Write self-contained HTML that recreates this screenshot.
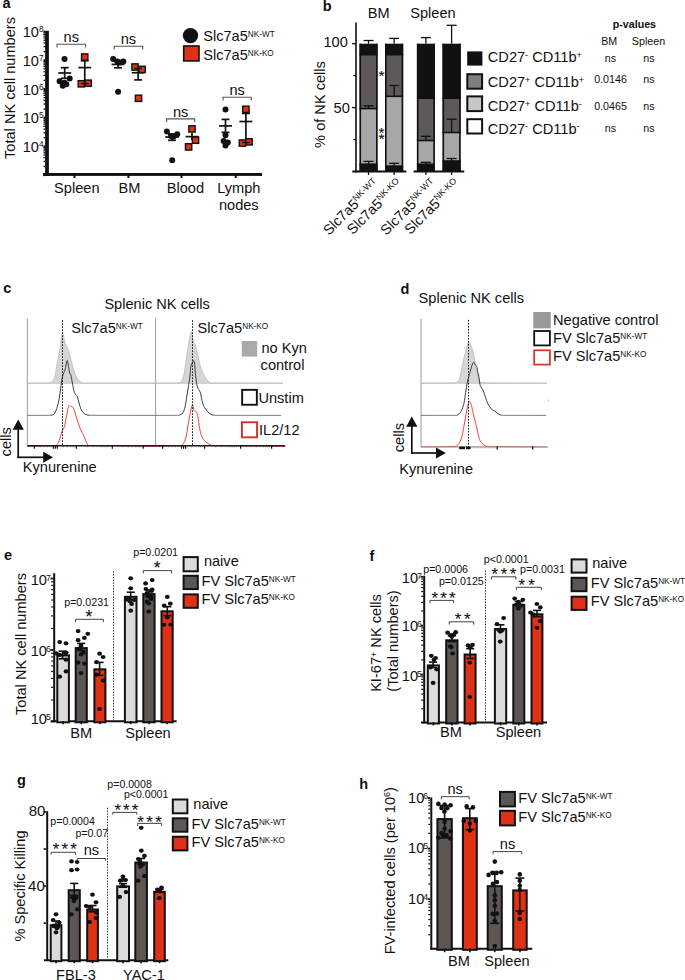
<!DOCTYPE html>
<html><head><meta charset="utf-8"><title>figure</title>
<style>
html,body{margin:0;padding:0;background:#fff;}
svg{display:block;font-family:"Liberation Sans",sans-serif;font-size:14.6px;fill:#111;}
</style></head><body>
<svg width="685" height="980" viewBox="0 0 685 980">
<text x="2.4" y="7.9" font-weight="bold" font-size="14.5">a</text>
<text transform="translate(15,88) rotate(-90)" text-anchor="middle">Total NK cell numbers</text>
<rect x="45.1" y="30.8" width="3.8" height="145" fill="#111"/>
<rect x="43" y="173" width="219" height="2.9" fill="#111"/>
<rect x="43.5" y="30.6" width="1.6" height="2" fill="#111"/>
<rect x="43.5" y="51.01" width="1.6" height="1.3" fill="#111"/>
<rect x="43.5" y="45.96" width="1.6" height="1.3" fill="#111"/>
<rect x="43.5" y="42.37" width="1.6" height="1.3" fill="#111"/>
<rect x="43.5" y="39.59" width="1.6" height="1.3" fill="#111"/>
<rect x="43.5" y="37.32" width="1.6" height="1.3" fill="#111"/>
<rect x="43.5" y="35.4" width="1.6" height="1.3" fill="#111"/>
<rect x="43.5" y="33.73" width="1.6" height="1.3" fill="#111"/>
<rect x="43.5" y="32.26" width="1.6" height="1.3" fill="#111"/>
<rect x="43.5" y="59.3" width="1.6" height="2" fill="#111"/>
<rect x="43.5" y="79.71" width="1.6" height="1.3" fill="#111"/>
<rect x="43.5" y="74.66" width="1.6" height="1.3" fill="#111"/>
<rect x="43.5" y="71.07" width="1.6" height="1.3" fill="#111"/>
<rect x="43.5" y="68.29" width="1.6" height="1.3" fill="#111"/>
<rect x="43.5" y="66.02" width="1.6" height="1.3" fill="#111"/>
<rect x="43.5" y="64.1" width="1.6" height="1.3" fill="#111"/>
<rect x="43.5" y="62.43" width="1.6" height="1.3" fill="#111"/>
<rect x="43.5" y="60.96" width="1.6" height="1.3" fill="#111"/>
<rect x="43.5" y="88" width="1.6" height="2" fill="#111"/>
<rect x="43.5" y="108.41" width="1.6" height="1.3" fill="#111"/>
<rect x="43.5" y="103.36" width="1.6" height="1.3" fill="#111"/>
<rect x="43.5" y="99.77" width="1.6" height="1.3" fill="#111"/>
<rect x="43.5" y="96.99" width="1.6" height="1.3" fill="#111"/>
<rect x="43.5" y="94.72" width="1.6" height="1.3" fill="#111"/>
<rect x="43.5" y="92.8" width="1.6" height="1.3" fill="#111"/>
<rect x="43.5" y="91.13" width="1.6" height="1.3" fill="#111"/>
<rect x="43.5" y="89.66" width="1.6" height="1.3" fill="#111"/>
<rect x="43.5" y="116.7" width="1.6" height="2" fill="#111"/>
<rect x="43.5" y="137.11" width="1.6" height="1.3" fill="#111"/>
<rect x="43.5" y="132.06" width="1.6" height="1.3" fill="#111"/>
<rect x="43.5" y="128.47" width="1.6" height="1.3" fill="#111"/>
<rect x="43.5" y="125.69" width="1.6" height="1.3" fill="#111"/>
<rect x="43.5" y="123.42" width="1.6" height="1.3" fill="#111"/>
<rect x="43.5" y="121.5" width="1.6" height="1.3" fill="#111"/>
<rect x="43.5" y="119.83" width="1.6" height="1.3" fill="#111"/>
<rect x="43.5" y="118.36" width="1.6" height="1.3" fill="#111"/>
<rect x="43.5" y="145.4" width="1.6" height="2" fill="#111"/>
<rect x="43.5" y="165.81" width="1.6" height="1.3" fill="#111"/>
<rect x="43.5" y="160.76" width="1.6" height="1.3" fill="#111"/>
<rect x="43.5" y="157.17" width="1.6" height="1.3" fill="#111"/>
<rect x="43.5" y="154.39" width="1.6" height="1.3" fill="#111"/>
<rect x="43.5" y="152.12" width="1.6" height="1.3" fill="#111"/>
<rect x="43.5" y="150.2" width="1.6" height="1.3" fill="#111"/>
<rect x="43.5" y="148.53" width="1.6" height="1.3" fill="#111"/>
<rect x="43.5" y="147.06" width="1.6" height="1.3" fill="#111"/>
<rect x="43.5" y="174.1" width="1.6" height="2" fill="#111"/>
<text x="22.7" y="37.3">10<tspan font-size="8.3" dy="-5.2">8</tspan></text>
<text x="22.7" y="66">10<tspan font-size="8.3" dy="-5.2">7</tspan></text>
<text x="22.7" y="94.7">10<tspan font-size="8.3" dy="-5.2">6</tspan></text>
<text x="22.7" y="123.4">10<tspan font-size="8.3" dy="-5.2">5</tspan></text>
<text x="22.7" y="152.1">10<tspan font-size="8.3" dy="-5.2">4</tspan></text>
<rect x="73.5" y="174" width="2" height="4" fill="#111"/>
<rect x="127.4" y="174" width="2" height="4" fill="#111"/>
<rect x="180.5" y="174" width="2" height="4" fill="#111"/>
<rect x="234.7" y="174" width="2" height="4" fill="#111"/>
<text x="76.8" y="192.7" text-anchor="middle">Spleen</text>
<text x="129.5" y="192.7" text-anchor="middle">BM</text>
<text x="185.4" y="192.7" text-anchor="middle">Blood</text>
<text x="238.8" y="192.7" text-anchor="middle">Lymph</text>
<text x="238.8" y="210" text-anchor="middle">nodes</text>
<path d="M57 47.5 V44.3 H85.5 V47.5" fill="none" stroke="#555" stroke-width="1.1"/>
<text x="71.25" y="42.3" text-anchor="middle">ns</text>
<path d="M114.2 49.4 V46.2 H142.7 V49.4" fill="none" stroke="#555" stroke-width="1.1"/>
<text x="128.45" y="44.2" text-anchor="middle">ns</text>
<path d="M166.6 122.1 V118.9 H194.7 V122.1" fill="none" stroke="#555" stroke-width="1.1"/>
<text x="180.65" y="116.9" text-anchor="middle">ns</text>
<path d="M223 100.5 V97.3 H251.2 V100.5" fill="none" stroke="#555" stroke-width="1.1"/>
<text x="237.1" y="95.3" text-anchor="middle">ns</text>
<circle cx="190.5" cy="35.6" r="7.7" fill="#111"/>
<rect x="183.7" y="46" width="15.3" height="14.9" fill="#df3116" stroke="#111" stroke-width="1.6"/>
<text x="203.2" y="40.8">Slc7a5<tspan font-size="8.2" dy="-4">NK-WT</tspan></text>
<text x="203.2" y="60">Slc7a5<tspan font-size="8.2" dy="-4">NK-KO</tspan></text>
<line x1="64.7" y1="67.7" x2="64.7" y2="78.3" stroke="#111" stroke-width="1.7"/>
<line x1="60.75" y1="67.7" x2="68.65" y2="67.7" stroke="#111" stroke-width="1.7"/>
<line x1="60.75" y1="78.3" x2="68.65" y2="78.3" stroke="#111" stroke-width="1.7"/>
<line x1="58.25" y1="73" x2="71.15" y2="73" stroke="#111" stroke-width="1.7"/>
<circle cx="64.5" cy="58.9" r="3" fill="#111"/>
<circle cx="59.6" cy="81.2" r="3" fill="#111"/>
<circle cx="69.7" cy="78.6" r="3" fill="#111"/>
<circle cx="62.8" cy="85.8" r="3" fill="#111"/>
<circle cx="66.3" cy="84.2" r="3" fill="#111"/>
<circle cx="64.5" cy="82.8" r="3" fill="#111"/>
<line x1="84.75" y1="60.9" x2="84.75" y2="83.6" stroke="#111" stroke-width="1.7"/>
<line x1="78.3" y1="67.6" x2="91.2" y2="67.6" stroke="#111" stroke-width="1.7"/>
<rect x="81.55" y="53.85" width="6.3" height="6.3" fill="#df3116" stroke="#111" stroke-width="1.4"/>
<rect x="78.15" y="80.65" width="6.3" height="6.3" fill="#df3116" stroke="#111" stroke-width="1.4"/>
<rect x="85.05" y="80.05" width="6.3" height="6.3" fill="#df3116" stroke="#111" stroke-width="1.4"/>
<line x1="80.8" y1="60.9" x2="88.7" y2="60.9" stroke="#111" stroke-width="1.5"/>
<line x1="80.8" y1="83.6" x2="88.7" y2="83.6" stroke="#111" stroke-width="1.5"/>
<line x1="118" y1="61" x2="118" y2="67.8" stroke="#111" stroke-width="1.7"/>
<line x1="114.05" y1="61" x2="121.95" y2="61" stroke="#111" stroke-width="1.7"/>
<line x1="114.05" y1="67.8" x2="121.95" y2="67.8" stroke="#111" stroke-width="1.7"/>
<line x1="111.55" y1="64.4" x2="124.45" y2="64.4" stroke="#111" stroke-width="1.7"/>
<circle cx="113.2" cy="59" r="3" fill="#111"/>
<circle cx="123.3" cy="61.5" r="3" fill="#111"/>
<circle cx="117.2" cy="61.5" r="3" fill="#111"/>
<circle cx="120" cy="62.5" r="3" fill="#111"/>
<circle cx="118.1" cy="91.7" r="3" fill="#111"/>
<line x1="138.2" y1="68.4" x2="138.2" y2="79.9" stroke="#111" stroke-width="1.7"/>
<line x1="131.75" y1="72.7" x2="144.65" y2="72.7" stroke="#111" stroke-width="1.7"/>
<line x1="134.25" y1="68.4" x2="142.15" y2="68.4" stroke="#111" stroke-width="1.7"/>
<line x1="134.25" y1="79.9" x2="142.15" y2="79.9" stroke="#111" stroke-width="1.7"/>
<rect x="131.85" y="63.85" width="6.3" height="6.3" fill="#df3116" stroke="#111" stroke-width="1.4"/>
<rect x="138.9" y="66.25" width="6.3" height="6.3" fill="#df3116" stroke="#111" stroke-width="1.4"/>
<rect x="135.35" y="95.15" width="6.3" height="6.3" fill="#df3116" stroke="#111" stroke-width="1.4"/>
<line x1="134.3" y1="68.4" x2="141.8" y2="68.4" stroke="#111" stroke-width="1.5"/>
<line x1="172" y1="134" x2="172" y2="140.3" stroke="#111" stroke-width="1.7"/>
<line x1="168.05" y1="134" x2="175.95" y2="134" stroke="#111" stroke-width="1.7"/>
<line x1="168.05" y1="140.3" x2="175.95" y2="140.3" stroke="#111" stroke-width="1.7"/>
<line x1="165.2" y1="137" x2="178.8" y2="137" stroke="#111" stroke-width="1.7"/>
<circle cx="166.9" cy="131.4" r="3" fill="#111"/>
<circle cx="177.2" cy="134.3" r="3" fill="#111"/>
<circle cx="171" cy="136" r="3" fill="#111"/>
<circle cx="173.5" cy="136.5" r="3" fill="#111"/>
<circle cx="172.2" cy="160.2" r="3" fill="#111"/>
<line x1="192" y1="132.8" x2="192" y2="140" stroke="#111" stroke-width="1.7"/>
<line x1="185.55" y1="136.6" x2="198.45" y2="136.6" stroke="#111" stroke-width="1.7"/>
<line x1="192" y1="132.8" x2="192" y2="132.8" stroke="#111" stroke-width="1.7"/>
<line x1="192" y1="140" x2="192" y2="140" stroke="#111" stroke-width="1.7"/>
<rect x="188.85" y="125.75" width="6.3" height="6.3" fill="#df3116" stroke="#111" stroke-width="1.4"/>
<rect x="192.35" y="137.05" width="6.3" height="6.3" fill="#df3116" stroke="#111" stroke-width="1.4"/>
<rect x="185.45" y="143.75" width="6.3" height="6.3" fill="#df3116" stroke="#111" stroke-width="1.4"/>
<line x1="225.5" y1="119.4" x2="225.5" y2="132.4" stroke="#111" stroke-width="1.7"/>
<line x1="221.55" y1="119.4" x2="229.45" y2="119.4" stroke="#111" stroke-width="1.7"/>
<line x1="221.55" y1="132.4" x2="229.45" y2="132.4" stroke="#111" stroke-width="1.7"/>
<line x1="219.05" y1="125.9" x2="231.95" y2="125.9" stroke="#111" stroke-width="1.7"/>
<circle cx="225.5" cy="109.6" r="3" fill="#111"/>
<circle cx="225.5" cy="135.3" r="3" fill="#111"/>
<circle cx="223.6" cy="141" r="3" fill="#111"/>
<circle cx="227.8" cy="142.4" r="3" fill="#111"/>
<circle cx="225.5" cy="145.4" r="3" fill="#111"/>
<line x1="245.9" y1="113.5" x2="245.9" y2="142.5" stroke="#111" stroke-width="1.7"/>
<line x1="239.45" y1="121.5" x2="252.35" y2="121.5" stroke="#111" stroke-width="1.7"/>
<rect x="242.75" y="106.15" width="6.3" height="6.3" fill="#df3116" stroke="#111" stroke-width="1.4"/>
<rect x="239.25" y="139.9" width="6.3" height="6.3" fill="#df3116" stroke="#111" stroke-width="1.4"/>
<rect x="245.9" y="138.7" width="6.3" height="6.3" fill="#df3116" stroke="#111" stroke-width="1.4"/>
<line x1="241.95" y1="113.5" x2="249.85" y2="113.5" stroke="#111" stroke-width="1.5"/>
<line x1="241.95" y1="142.5" x2="249.85" y2="142.5" stroke="#111" stroke-width="1.5"/>
<text x="322.8" y="11.4" font-weight="bold" font-size="14.5">b</text>
<text x="378.8" y="17.9" text-anchor="middle">BM</text>
<text x="433" y="17.9" text-anchor="middle">Spleen</text>
<text transform="translate(325.2,104.5) rotate(-90)" text-anchor="middle">% of NK cells</text>
<line x1="356" y1="22.4" x2="356" y2="172.4" stroke="#111" stroke-width="1.6"/>
<line x1="352" y1="43.7" x2="356" y2="43.7" stroke="#111" stroke-width="1.3"/>
<line x1="353.4" y1="75.65" x2="356" y2="75.65" stroke="#111" stroke-width="1.3"/>
<line x1="352" y1="107.6" x2="356" y2="107.6" stroke="#111" stroke-width="1.3"/>
<line x1="353.4" y1="139.55" x2="356" y2="139.55" stroke="#111" stroke-width="1.3"/>
<text x="347.8" y="47.4" text-anchor="end">100</text>
<text x="349.8" y="113.4" text-anchor="end">50</text>
<line x1="352.3" y1="171.5" x2="406.4" y2="171.5" stroke="#111" stroke-width="2"/>
<line x1="413.6" y1="171.5" x2="464.3" y2="171.5" stroke="#111" stroke-width="2"/>
<rect x="359.5" y="43.7" width="18.1" height="11" fill="#111"/>
<rect x="359.5" y="54.7" width="18.1" height="53.9" fill="#5d5959"/>
<rect x="359.5" y="108.6" width="18.1" height="55.6" fill="#a7a7a7"/>
<rect x="359.5" y="164.2" width="18.1" height="7.3" fill="#111"/>
<rect x="359.5" y="43.7" width="1.6" height="127.8" fill="#111"/>
<rect x="376" y="43.7" width="1.6" height="127.8" fill="#111"/>
<rect x="359.5" y="53.9" width="18.1" height="1.6" fill="#111"/>
<rect x="359.5" y="107.8" width="18.1" height="1.6" fill="#111"/>
<rect x="359.5" y="163.4" width="18.1" height="1.6" fill="#111"/>
<line x1="368.55" y1="43.7" x2="368.55" y2="40.5" stroke="#111" stroke-width="1.3"/>
<line x1="363.55" y1="40.5" x2="373.55" y2="40.5" stroke="#111" stroke-width="1.3"/>
<line x1="368.55" y1="108.6" x2="368.55" y2="105.8" stroke="#111" stroke-width="1.3"/>
<line x1="363.55" y1="105.8" x2="373.55" y2="105.8" stroke="#111" stroke-width="1.3"/>
<line x1="368.55" y1="164.2" x2="368.55" y2="161.4" stroke="#111" stroke-width="1.3"/>
<line x1="363.55" y1="161.4" x2="373.55" y2="161.4" stroke="#111" stroke-width="1.3"/>
<line x1="368.55" y1="171.5" x2="368.55" y2="175" stroke="#111" stroke-width="1.3"/>
<rect x="385" y="43.7" width="18.2" height="11" fill="#111"/>
<rect x="385" y="54.7" width="18.2" height="41.6" fill="#5d5959"/>
<rect x="385" y="96.3" width="18.2" height="69.8" fill="#a7a7a7"/>
<rect x="385" y="166.1" width="18.2" height="5.4" fill="#111"/>
<rect x="385" y="43.7" width="1.6" height="127.8" fill="#111"/>
<rect x="401.6" y="43.7" width="1.6" height="127.8" fill="#111"/>
<rect x="385" y="53.9" width="18.2" height="1.6" fill="#111"/>
<rect x="385" y="95.5" width="18.2" height="1.6" fill="#111"/>
<rect x="385" y="165.3" width="18.2" height="1.6" fill="#111"/>
<line x1="394.1" y1="43.7" x2="394.1" y2="38.4" stroke="#111" stroke-width="1.3"/>
<line x1="389.1" y1="38.4" x2="399.1" y2="38.4" stroke="#111" stroke-width="1.3"/>
<line x1="394.1" y1="96.3" x2="394.1" y2="85.5" stroke="#111" stroke-width="1.3"/>
<line x1="389.1" y1="85.5" x2="399.1" y2="85.5" stroke="#111" stroke-width="1.3"/>
<line x1="394.1" y1="166.1" x2="394.1" y2="163.3" stroke="#111" stroke-width="1.3"/>
<line x1="389.1" y1="163.3" x2="399.1" y2="163.3" stroke="#111" stroke-width="1.3"/>
<line x1="394.1" y1="171.5" x2="394.1" y2="175" stroke="#111" stroke-width="1.3"/>
<rect x="416.9" y="43.7" width="18" height="54.5" fill="#111"/>
<rect x="416.9" y="98.2" width="18" height="42.3" fill="#5d5959"/>
<rect x="416.9" y="140.5" width="18" height="23.7" fill="#a7a7a7"/>
<rect x="416.9" y="164.2" width="18" height="7.3" fill="#111"/>
<rect x="416.9" y="43.7" width="1.6" height="127.8" fill="#111"/>
<rect x="433.3" y="43.7" width="1.6" height="127.8" fill="#111"/>
<rect x="416.9" y="97.4" width="18" height="1.6" fill="#111"/>
<rect x="416.9" y="139.7" width="18" height="1.6" fill="#111"/>
<rect x="416.9" y="163.4" width="18" height="1.6" fill="#111"/>
<line x1="425.9" y1="43.7" x2="425.9" y2="37.6" stroke="#111" stroke-width="1.3"/>
<line x1="420.9" y1="37.6" x2="430.9" y2="37.6" stroke="#111" stroke-width="1.3"/>
<line x1="425.9" y1="140.5" x2="425.9" y2="136.3" stroke="#111" stroke-width="1.3"/>
<line x1="420.9" y1="136.3" x2="430.9" y2="136.3" stroke="#111" stroke-width="1.3"/>
<line x1="425.9" y1="164.2" x2="425.9" y2="162.3" stroke="#111" stroke-width="1.3"/>
<line x1="420.9" y1="162.3" x2="430.9" y2="162.3" stroke="#111" stroke-width="1.3"/>
<line x1="425.9" y1="171.5" x2="425.9" y2="175" stroke="#111" stroke-width="1.3"/>
<rect x="442.5" y="43.7" width="18.2" height="54.5" fill="#111"/>
<rect x="442.5" y="98.2" width="18.2" height="34.3" fill="#5d5959"/>
<rect x="442.5" y="132.5" width="18.2" height="28.5" fill="#a7a7a7"/>
<rect x="442.5" y="161" width="18.2" height="10.5" fill="#111"/>
<rect x="442.5" y="43.7" width="1.6" height="127.8" fill="#111"/>
<rect x="459.1" y="43.7" width="1.6" height="127.8" fill="#111"/>
<rect x="442.5" y="97.4" width="18.2" height="1.6" fill="#111"/>
<rect x="442.5" y="131.7" width="18.2" height="1.6" fill="#111"/>
<rect x="442.5" y="160.2" width="18.2" height="1.6" fill="#111"/>
<line x1="451.6" y1="43.7" x2="451.6" y2="25.3" stroke="#111" stroke-width="1.3"/>
<line x1="446.6" y1="25.3" x2="456.6" y2="25.3" stroke="#111" stroke-width="1.3"/>
<line x1="451.6" y1="132.5" x2="451.6" y2="119.2" stroke="#111" stroke-width="1.3"/>
<line x1="446.6" y1="119.2" x2="456.6" y2="119.2" stroke="#111" stroke-width="1.3"/>
<line x1="451.6" y1="161" x2="451.6" y2="158.5" stroke="#111" stroke-width="1.3"/>
<line x1="446.6" y1="158.5" x2="456.6" y2="158.5" stroke="#111" stroke-width="1.3"/>
<line x1="451.6" y1="171.5" x2="451.6" y2="175" stroke="#111" stroke-width="1.3"/>
<text x="378.39" y="81.38" font-size="15.3" stroke="#111" stroke-width="0.1">*</text>
<text x="378.39" y="137.78" font-size="15.3" stroke="#111" stroke-width="0.1">*</text>
<text x="378.39" y="144.08" font-size="15.3" stroke="#111" stroke-width="0.1">*</text>
<text transform="translate(380,184.9) rotate(-45)" text-anchor="end" font-size="14.2">Slc7a5<tspan font-size="8.8" dy="-5">NK-WT</tspan></text>
<text transform="translate(403.1,184.9) rotate(-45)" text-anchor="end" font-size="14.2">Slc7a5<tspan font-size="8.8" dy="-5">NK-KO</tspan></text>
<text transform="translate(437.4,184.9) rotate(-45)" text-anchor="end" font-size="14.2">Slc7a5<tspan font-size="8.8" dy="-5">NK-WT</tspan></text>
<text transform="translate(460.6,184.9) rotate(-45)" text-anchor="end" font-size="14.2">Slc7a5<tspan font-size="8.8" dy="-5">NK-KO</tspan></text>
<rect x="468" y="52.2" width="13.6" height="12.6" fill="#111" stroke="#111" stroke-width="1.6"/>
<rect x="467.3" y="74.2" width="14.8" height="14.5" fill="#7f7f7f" stroke="#111" stroke-width="2"/>
<rect x="467.3" y="96.4" width="14.8" height="14.7" fill="#c6c6c6" stroke="#111" stroke-width="2"/>
<rect x="467.3" y="119.2" width="14.8" height="14.3" fill="#ffffff" stroke="#111" stroke-width="2"/>
<text x="487.8" y="62.4">CD27<tspan font-size="9" dy="-4.5">-</tspan><tspan dy="4.5"> CD11b</tspan><tspan font-size="9" dy="-4.5">+</tspan></text>
<text x="487.8" y="87.1">CD27<tspan font-size="9" dy="-4.5">+</tspan><tspan dy="4.5"> CD11b</tspan><tspan font-size="9" dy="-4.5">+</tspan></text>
<text x="487.8" y="111.2">CD27<tspan font-size="9" dy="-4.5">+</tspan><tspan dy="4.5"> CD11b</tspan><tspan font-size="9" dy="-4.5">-</tspan></text>
<text x="487.8" y="133.5">CD27<tspan font-size="9" dy="-4.5">-</tspan><tspan dy="4.5"> CD11b</tspan><tspan font-size="9" dy="-4.5">-</tspan></text>
<text x="634.4" y="28" text-anchor="middle" font-weight="bold" font-size="10.7">p-values</text>
<text x="609.2" y="45.2" text-anchor="middle" font-size="10.7">BM</text>
<text x="648.5" y="45.2" text-anchor="middle" font-size="10.7">Spleen</text>
<text x="610.5" y="61.9" text-anchor="middle" font-size="10.7">ns</text>
<text x="648.9" y="61.9" text-anchor="middle" font-size="10.7">ns</text>
<text x="610.5" y="83" text-anchor="middle" font-size="10.7">0.0146</text>
<text x="648.9" y="83" text-anchor="middle" font-size="10.7">ns</text>
<text x="610.5" y="110.2" text-anchor="middle" font-size="10.7">0.0465</text>
<text x="648.9" y="110.2" text-anchor="middle" font-size="10.7">ns</text>
<text x="610.5" y="131.5" text-anchor="middle" font-size="10.7">ns</text>
<text x="648.9" y="131.5" text-anchor="middle" font-size="10.7">ns</text>
<text x="3.3" y="293.2" font-weight="bold" font-size="14.5">c</text>
<text x="104.4" y="308.6">Splenic NK cells</text>
<line x1="27.3" y1="318.5" x2="27.3" y2="445.7" stroke="#9a9a9a" stroke-width="1"/>
<line x1="155.6" y1="318.5" x2="155.6" y2="445.7" stroke="#9a9a9a" stroke-width="1"/>
<path d="M27.3 383.2 L48.7 383.1 C50.07 382.75 51.73 382.23 52.8 381 C53.87 379.77 54.33 378.92 55.1 375.7 C55.87 372.48 56.62 365.98 57.4 361.7 C58.18 357.42 59.12 354.08 59.8 350 C60.48 345.92 61.02 340.3 61.5 337.2 C61.98 334.1 62.3 331.4 62.7 331.4 C63.1 331.4 63.52 335.27 63.9 337.2 C64.28 339.13 64.42 341.25 65 343 C65.58 344.75 66.62 345.75 67.4 347.7 C68.18 349.65 68.93 351.98 69.7 354.7 C70.47 357.42 71.22 361.08 72 364 C72.78 366.92 73.42 369.67 74.4 372.2 C75.38 374.73 76.73 377.48 77.9 379.2 C79.07 380.92 80.43 381.83 81.4 382.5 C82.37 383.17 82.93 383.08 83.7 383.2 L155.6 383.2 Z" fill="#d6d6d6" stroke="#bdbdbd" stroke-width="0.9"/>
<path d="M155.6 383.2 L177.5 383.1 C178.87 382.75 180.53 382.42 181.6 381 C182.67 379.58 183.12 378.2 183.9 374.6 C184.68 371 185.52 364.47 186.3 359.4 C187.08 354.33 187.88 348.48 188.6 344.2 C189.32 339.92 190.07 335.75 190.6 333.7 C191.13 331.65 191.35 330.73 191.8 331.9 C192.25 333.07 192.67 338.27 193.3 340.7 C193.93 343.13 194.82 343.97 195.6 346.5 C196.38 349.03 197.22 352.58 198 355.9 C198.78 359.22 199.33 363.28 200.3 366.4 C201.27 369.52 202.53 372.17 203.8 374.6 C205.07 377.03 206.63 379.58 207.9 381 C209.17 382.42 210.23 382.75 211.4 383.1 L282.8 383.2 Z" fill="#d6d6d6" stroke="#bdbdbd" stroke-width="0.9"/>
<line x1="27.3" y1="415.4" x2="51" y2="415.3" stroke="#707070" stroke-width="0.9"/>
<line x1="89.6" y1="415.3" x2="155.6" y2="415.4" stroke="#707070" stroke-width="0.9"/>
<path d="M51 415.3 L51 415.3 C52.17 415 53.43 414.97 54.5 413.5 C55.57 412.03 56.62 409.02 57.4 406.5 C58.18 403.98 58.67 401.32 59.2 398.4 C59.73 395.48 60.22 391.73 60.6 389 C60.98 386.27 61.12 384.33 61.5 382 C61.88 379.67 62.32 377.02 62.9 375 C63.48 372.98 64.3 372.32 65 369.9 C65.7 367.48 66.52 361.08 67.1 360.5 C67.68 359.92 68.07 364.25 68.5 366.4 C68.93 368.55 69.3 371.97 69.7 373.4 C70.1 374.83 70.42 373.18 70.9 375 C71.38 376.82 72.02 381.38 72.6 384.3 C73.18 387.22 73.62 390.45 74.4 392.5 C75.18 394.55 76.53 394.85 77.3 396.6 C78.07 398.35 78.32 400.77 79 403 C79.68 405.23 80.42 408.15 81.4 410 C82.38 411.85 83.53 413.22 84.9 414.1 C86.27 414.98 88.03 415.1 89.6 415.3 L89.6 415.3" fill="none" stroke="#333" stroke-width="0.95"/>
<line x1="155.6" y1="415.4" x2="178.7" y2="415.3" stroke="#707070" stroke-width="0.9"/>
<line x1="213.7" y1="415.3" x2="281" y2="415.4" stroke="#707070" stroke-width="0.9"/>
<path d="M178.7 415.3 L178.7 415.3 C180.07 414.92 181.73 414.47 182.8 413 C183.87 411.53 184.42 409.33 185.1 406.5 C185.78 403.67 186.32 399.5 186.9 396 C187.48 392.5 188.07 389 188.6 385.5 C189.13 382 189.72 378.18 190.1 375 C190.48 371.82 190.37 368.72 190.9 366.4 C191.43 364.08 192.7 361.68 193.3 361.1 C193.9 360.52 194.12 360.47 194.5 362.9 C194.88 365.33 195.12 371.73 195.6 375.7 C196.08 379.67 196.62 383.9 197.4 386.7 C198.18 389.5 199.43 389.78 200.3 392.5 C201.17 395.22 201.73 400.27 202.6 403 C203.47 405.73 204.43 407.23 205.5 408.9 C206.57 410.57 207.63 411.93 209 413 C210.37 414.07 212.13 414.92 213.7 415.3 L213.7 415.3" fill="none" stroke="#333" stroke-width="0.95"/>
<path d="M27.3 446.4 L56.3 445.7 C57.27 444.82 58.23 442.83 59.2 440.4 C60.17 437.97 61.22 433.43 62.1 431.1 C62.98 428.77 63.72 429.13 64.5 426.4 C65.28 423.67 66.13 418.12 66.8 414.7 C67.47 411.28 67.92 407.3 68.5 405.9 C69.08 404.5 69.52 406 70.3 406.3 C71.08 406.6 72.13 405.72 73.2 407.7 C74.27 409.68 75.53 414.7 76.7 418.2 C77.87 421.7 79.03 425.78 80.2 428.7 C81.37 431.62 82.53 433.17 83.7 435.7 C84.87 438.23 86.32 442.23 87.2 443.9 C88.08 445.57 88.4 445.4 89 445.7 L155.6 446.4" fill="none" stroke="#f0453a" stroke-width="1"/>
<path d="M155.6 446.4 L181 445.7 C181.97 445.2 183.02 444.37 183.9 442.7 C184.78 441.03 185.52 439.2 186.3 435.7 C187.08 432.2 187.83 425.98 188.6 421.7 C189.37 417.42 190.25 412.82 190.9 410 C191.55 407.18 192 404.8 192.5 404.8 C193 404.8 193.28 408.83 193.9 410 C194.52 411.17 195.52 410.63 196.2 411.8 C196.88 412.97 197.42 414.18 198 417 C198.58 419.82 199.03 425.38 199.7 428.7 C200.37 432.02 201.03 434.75 202 436.9 C202.97 439.05 204.33 440.42 205.5 441.6 C206.67 442.78 207.92 443.32 209 444 C210.08 444.68 211 445.42 212 445.7 L285 446.4" fill="none" stroke="#f0453a" stroke-width="1"/>
<line x1="62.5" y1="320.3" x2="62.5" y2="445.7" stroke="#111" stroke-width="1" stroke-dasharray="1.6 1.4"/>
<line x1="192.5" y1="320.3" x2="192.5" y2="445.7" stroke="#111" stroke-width="1" stroke-dasharray="1.6 1.4"/>
<line x1="27.3" y1="445.7" x2="285.2" y2="445.7" stroke="#1a1a1a" stroke-width="1.4"/>
<line x1="34.3" y1="445.7" x2="34.3" y2="448.7" stroke="#111" stroke-width="1.2"/>
<line x1="53.3" y1="445.7" x2="53.3" y2="448.7" stroke="#111" stroke-width="1.2"/>
<line x1="55.3" y1="445.7" x2="55.3" y2="448.7" stroke="#111" stroke-width="1.2"/>
<line x1="57.3" y1="445.7" x2="57.3" y2="448.7" stroke="#111" stroke-width="1.2"/>
<line x1="76.3" y1="445.7" x2="76.3" y2="448.7" stroke="#111" stroke-width="1.2"/>
<line x1="112.3" y1="445.7" x2="112.3" y2="448.7" stroke="#111" stroke-width="1.2"/>
<line x1="143.3" y1="445.7" x2="143.3" y2="448.7" stroke="#111" stroke-width="1.2"/>
<line x1="40.3" y1="445.7" x2="40.3" y2="447.3" stroke="#555" stroke-width="0.8"/>
<line x1="44.3" y1="445.7" x2="44.3" y2="447.3" stroke="#555" stroke-width="0.8"/>
<line x1="47.3" y1="445.7" x2="47.3" y2="447.3" stroke="#555" stroke-width="0.8"/>
<line x1="50.3" y1="445.7" x2="50.3" y2="447.3" stroke="#555" stroke-width="0.8"/>
<line x1="63.3" y1="445.7" x2="63.3" y2="447.3" stroke="#555" stroke-width="0.8"/>
<line x1="67.3" y1="445.7" x2="67.3" y2="447.3" stroke="#555" stroke-width="0.8"/>
<line x1="70.3" y1="445.7" x2="70.3" y2="447.3" stroke="#555" stroke-width="0.8"/>
<line x1="72.3" y1="445.7" x2="72.3" y2="447.3" stroke="#555" stroke-width="0.8"/>
<line x1="74.3" y1="445.7" x2="74.3" y2="447.3" stroke="#555" stroke-width="0.8"/>
<line x1="87.3" y1="445.7" x2="87.3" y2="447.3" stroke="#555" stroke-width="0.8"/>
<line x1="93.3" y1="445.7" x2="93.3" y2="447.3" stroke="#555" stroke-width="0.8"/>
<line x1="97.3" y1="445.7" x2="97.3" y2="447.3" stroke="#555" stroke-width="0.8"/>
<line x1="100.3" y1="445.7" x2="100.3" y2="447.3" stroke="#555" stroke-width="0.8"/>
<line x1="102.3" y1="445.7" x2="102.3" y2="447.3" stroke="#555" stroke-width="0.8"/>
<line x1="104.3" y1="445.7" x2="104.3" y2="447.3" stroke="#555" stroke-width="0.8"/>
<line x1="106.3" y1="445.7" x2="106.3" y2="447.3" stroke="#555" stroke-width="0.8"/>
<line x1="108.3" y1="445.7" x2="108.3" y2="447.3" stroke="#555" stroke-width="0.8"/>
<line x1="122.3" y1="445.7" x2="122.3" y2="447.3" stroke="#555" stroke-width="0.8"/>
<line x1="128.3" y1="445.7" x2="128.3" y2="447.3" stroke="#555" stroke-width="0.8"/>
<line x1="132.3" y1="445.7" x2="132.3" y2="447.3" stroke="#555" stroke-width="0.8"/>
<line x1="135.3" y1="445.7" x2="135.3" y2="447.3" stroke="#555" stroke-width="0.8"/>
<line x1="137.3" y1="445.7" x2="137.3" y2="447.3" stroke="#555" stroke-width="0.8"/>
<line x1="139.3" y1="445.7" x2="139.3" y2="447.3" stroke="#555" stroke-width="0.8"/>
<line x1="141.3" y1="445.7" x2="141.3" y2="447.3" stroke="#555" stroke-width="0.8"/>
<line x1="162.6" y1="445.7" x2="162.6" y2="448.7" stroke="#111" stroke-width="1.2"/>
<line x1="181.6" y1="445.7" x2="181.6" y2="448.7" stroke="#111" stroke-width="1.2"/>
<line x1="183.6" y1="445.7" x2="183.6" y2="448.7" stroke="#111" stroke-width="1.2"/>
<line x1="185.6" y1="445.7" x2="185.6" y2="448.7" stroke="#111" stroke-width="1.2"/>
<line x1="204.6" y1="445.7" x2="204.6" y2="448.7" stroke="#111" stroke-width="1.2"/>
<line x1="240.6" y1="445.7" x2="240.6" y2="448.7" stroke="#111" stroke-width="1.2"/>
<line x1="271.6" y1="445.7" x2="271.6" y2="448.7" stroke="#111" stroke-width="1.2"/>
<line x1="168.6" y1="445.7" x2="168.6" y2="447.3" stroke="#555" stroke-width="0.8"/>
<line x1="172.6" y1="445.7" x2="172.6" y2="447.3" stroke="#555" stroke-width="0.8"/>
<line x1="175.6" y1="445.7" x2="175.6" y2="447.3" stroke="#555" stroke-width="0.8"/>
<line x1="178.6" y1="445.7" x2="178.6" y2="447.3" stroke="#555" stroke-width="0.8"/>
<line x1="191.6" y1="445.7" x2="191.6" y2="447.3" stroke="#555" stroke-width="0.8"/>
<line x1="195.6" y1="445.7" x2="195.6" y2="447.3" stroke="#555" stroke-width="0.8"/>
<line x1="198.6" y1="445.7" x2="198.6" y2="447.3" stroke="#555" stroke-width="0.8"/>
<line x1="200.6" y1="445.7" x2="200.6" y2="447.3" stroke="#555" stroke-width="0.8"/>
<line x1="202.6" y1="445.7" x2="202.6" y2="447.3" stroke="#555" stroke-width="0.8"/>
<line x1="215.6" y1="445.7" x2="215.6" y2="447.3" stroke="#555" stroke-width="0.8"/>
<line x1="221.6" y1="445.7" x2="221.6" y2="447.3" stroke="#555" stroke-width="0.8"/>
<line x1="225.6" y1="445.7" x2="225.6" y2="447.3" stroke="#555" stroke-width="0.8"/>
<line x1="228.6" y1="445.7" x2="228.6" y2="447.3" stroke="#555" stroke-width="0.8"/>
<line x1="230.6" y1="445.7" x2="230.6" y2="447.3" stroke="#555" stroke-width="0.8"/>
<line x1="232.6" y1="445.7" x2="232.6" y2="447.3" stroke="#555" stroke-width="0.8"/>
<line x1="234.6" y1="445.7" x2="234.6" y2="447.3" stroke="#555" stroke-width="0.8"/>
<line x1="236.6" y1="445.7" x2="236.6" y2="447.3" stroke="#555" stroke-width="0.8"/>
<line x1="250.6" y1="445.7" x2="250.6" y2="447.3" stroke="#555" stroke-width="0.8"/>
<line x1="256.6" y1="445.7" x2="256.6" y2="447.3" stroke="#555" stroke-width="0.8"/>
<line x1="260.6" y1="445.7" x2="260.6" y2="447.3" stroke="#555" stroke-width="0.8"/>
<line x1="263.6" y1="445.7" x2="263.6" y2="447.3" stroke="#555" stroke-width="0.8"/>
<line x1="265.6" y1="445.7" x2="265.6" y2="447.3" stroke="#555" stroke-width="0.8"/>
<line x1="267.6" y1="445.7" x2="267.6" y2="447.3" stroke="#555" stroke-width="0.8"/>
<line x1="269.6" y1="445.7" x2="269.6" y2="447.3" stroke="#555" stroke-width="0.8"/>
<text x="71.2" y="333.4">Slc7a5<tspan font-size="8.2" dy="-4">NK-WT</tspan></text>
<text x="197.6" y="332.8">Slc7a5<tspan font-size="8.2" dy="-4">NK-KO</tspan></text>
<rect x="241.8" y="341" width="15.4" height="15.6" fill="#aaaaaa"/>
<text x="261.4" y="352.6">no Kyn</text>
<text x="260.6" y="370.4">control</text>
<rect x="242.15" y="389.85" width="14.7" height="14.9" fill="none" stroke="#111" stroke-width="1.9"/>
<text x="258.4" y="403">Unstim</text>
<rect x="241.95" y="422.25" width="15.1" height="15.1" fill="none" stroke="#d9302a" stroke-width="1.9"/>
<text x="259" y="435.2">IL2/12</text>
<line x1="18.2" y1="458.1" x2="18.2" y2="428.6" stroke="#111" stroke-width="1.7"/>
<line x1="17.4" y1="457.3" x2="44" y2="457.3" stroke="#111" stroke-width="1.7"/>
<path d="M18.2 419.6 L12.6 429.8 L23.8 429.8 Z" fill="#111" stroke="none" stroke-width="1"/>
<path d="M53 457.3 L43.2 451.8 L43.2 462.8 Z" fill="#111" stroke="none" stroke-width="1"/>
<text transform="translate(11.2,441.8) rotate(-90)" text-anchor="middle">cells</text>
<text x="22.8" y="472.2">Kynurenine</text>
<text x="400.5" y="293.7" font-weight="bold" font-size="14.5">d</text>
<text x="418.6" y="302.8">Splenic NK cells</text>
<line x1="421" y1="318.5" x2="421" y2="446.9" stroke="#9a9a9a" stroke-width="1"/>
<path d="M421 383.2 L453.4 383.1 C454.93 382.85 456.83 382.83 458 381.6 C459.17 380.37 459.72 378.23 460.4 375.7 C461.08 373.17 461.52 369.32 462.1 366.4 C462.68 363.48 463.22 360.93 463.9 358.2 C464.58 355.47 465.43 352.72 466.2 350 C466.97 347.28 467.72 342.67 468.5 341.9 C469.28 341.13 470.12 343.65 470.9 345.4 C471.68 347.15 472.52 349.68 473.2 352.4 C473.88 355.12 474.42 358.58 475 361.7 C475.58 364.82 476.02 367.98 476.7 371.1 C477.38 374.22 478.22 378.5 479.1 380.4 C479.98 382.3 480.25 382.05 482 382.5 C483.75 382.95 487.07 383 489.6 383.1 L546.8 383.2 Z" fill="#d6d6d6" stroke="#bdbdbd" stroke-width="0.9"/>
<line x1="421" y1="415.4" x2="456.9" y2="415.3" stroke="#707070" stroke-width="0.9"/>
<line x1="501.2" y1="415.3" x2="546.3" y2="415.4" stroke="#707070" stroke-width="0.9"/>
<path d="M456.9 415.3 L456.9 415.3 C458.07 414.82 459.43 413.67 460.4 412.4 C461.37 411.13 462.02 409.65 462.7 407.7 C463.38 405.75 464.02 403.23 464.5 400.7 C464.98 398.17 465.12 395.62 465.6 392.5 C466.08 389.38 466.72 385.18 467.4 382 C468.08 378.82 468.93 376.2 469.7 373.4 C470.47 370.6 471.32 367.05 472 365.2 C472.68 363.35 473.3 362.4 473.8 362.3 C474.3 362.2 474.52 363.92 475 364.6 C475.48 365.28 476.22 365.13 476.7 366.4 C477.18 367.67 477.5 370.25 477.9 372.2 C478.3 374.15 478.72 375.88 479.1 378.1 C479.48 380.32 479.53 383.48 480.2 385.5 C480.87 387.52 482.22 388.25 483.1 390.2 C483.98 392.15 484.72 394.97 485.5 397.2 C486.28 399.43 486.83 401.65 487.8 403.6 C488.77 405.55 490.13 407.63 491.3 408.9 C492.47 410.17 493.53 410.33 494.8 411.2 C496.07 412.07 497.83 413.42 498.9 414.1 C499.97 414.78 500.43 415.1 501.2 415.3 L501.2 415.3" fill="none" stroke="#333" stroke-width="0.95"/>
<path d="M421 447.3 L455.1 446.5 C456.27 446.07 457.53 445.3 458.6 443.9 C459.67 442.5 460.62 441.02 461.5 438.1 C462.38 435.18 463.12 430.5 463.9 426.4 C464.68 422.3 465.43 417.4 466.2 413.5 C466.97 409.6 467.92 404.98 468.5 403 C469.08 401.02 469.2 401.2 469.7 401.6 C470.2 402 470.92 403.42 471.5 405.4 C472.08 407.38 472.62 410.98 473.2 413.5 C473.78 416.02 474.42 418.15 475 420.5 C475.58 422.85 476.02 424.67 476.7 427.6 C477.38 430.53 478.32 435.58 479.1 438.1 C479.88 440.62 480.43 441.43 481.4 442.7 C482.37 443.97 483.73 445.07 484.9 445.7 C486.07 446.33 487.23 446.37 488.4 446.5 L547.6 447.3" fill="none" stroke="#f0453a" stroke-width="1"/>
<line x1="468.5" y1="319.9" x2="468.5" y2="446.9" stroke="#111" stroke-width="1" stroke-dasharray="1.6 1.4"/>
<line x1="421" y1="447.4" x2="547.6" y2="447.4" stroke="#f0a8a8" stroke-width="0.9"/>
<line x1="421" y1="446.6" x2="547.6" y2="446.6" stroke="#888" stroke-width="0.7"/>
<rect x="459.2" y="446.6" width="5.8" height="2.6" fill="#111"/>
<rect x="466" y="446.6" width="4.6" height="2.6" fill="#111"/>
<line x1="497.2" y1="446.5" x2="497.2" y2="449.6" stroke="#111" stroke-width="1.3"/>
<line x1="532.7" y1="446.5" x2="532.7" y2="449.6" stroke="#111" stroke-width="1.3"/>
<line x1="474" y1="446.5" x2="474" y2="448.6" stroke="#aaa" stroke-width="0.7"/>
<line x1="477" y1="446.5" x2="477" y2="448.6" stroke="#aaa" stroke-width="0.7"/>
<line x1="480" y1="446.5" x2="480" y2="448.6" stroke="#aaa" stroke-width="0.7"/>
<line x1="483" y1="446.5" x2="483" y2="448.6" stroke="#aaa" stroke-width="0.7"/>
<line x1="485.5" y1="446.5" x2="485.5" y2="448.6" stroke="#aaa" stroke-width="0.7"/>
<line x1="488" y1="446.5" x2="488" y2="448.6" stroke="#aaa" stroke-width="0.7"/>
<line x1="490" y1="446.5" x2="490" y2="448.6" stroke="#aaa" stroke-width="0.7"/>
<line x1="492.5" y1="446.5" x2="492.5" y2="448.6" stroke="#aaa" stroke-width="0.7"/>
<line x1="494.5" y1="446.5" x2="494.5" y2="448.6" stroke="#aaa" stroke-width="0.7"/>
<rect x="548.1" y="399.4" width="0.9" height="2.2" fill="#c8c8c8"/>
<rect x="533.3" y="312" width="17.5" height="16.4" fill="#999999"/>
<rect x="534.2" y="331" width="15.7" height="14.4" fill="none" stroke="#111" stroke-width="1.8"/>
<rect x="534.2" y="350.3" width="15.7" height="14.3" fill="none" stroke="#d9372c" stroke-width="1.8"/>
<text x="553" y="324.8">Negative control</text>
<text x="553" y="342.9">FV Slc7a5<tspan font-size="8.2" dy="-4">NK-WT</tspan></text>
<text x="553" y="361.4">FV Slc7a5<tspan font-size="8.2" dy="-4">NK-KO</tspan></text>
<line x1="411.8" y1="453.8" x2="411.8" y2="425.6" stroke="#111" stroke-width="1.7"/>
<line x1="411" y1="453" x2="436.8" y2="453" stroke="#111" stroke-width="1.7"/>
<path d="M411.8 416.6 L406.2 426.8 L417.4 426.8 Z" fill="#111" stroke="none" stroke-width="1"/>
<path d="M445.8 453 L436 447.5 L436 458.5 Z" fill="#111" stroke="none" stroke-width="1"/>
<text transform="translate(403.8,437.6) rotate(-90)" text-anchor="middle">cells</text>
<text x="399.2" y="473.7">Kynurenine</text>
<text x="4.1" y="559.5" font-weight="bold" font-size="14.5">e</text>
<text transform="translate(26.3,644) rotate(-90)" text-anchor="middle">Total NK cell numbers</text>
<rect x="53.2" y="573.2" width="2" height="149.1" fill="#111"/>
<rect x="50.6" y="577.6" width="2.6" height="1.8" fill="#111"/>
<rect x="51.2" y="627.88" width="2" height="1.2" fill="#111"/>
<rect x="51.2" y="615.29" width="2" height="1.2" fill="#111"/>
<rect x="51.2" y="606.35" width="2" height="1.2" fill="#111"/>
<rect x="51.2" y="599.42" width="2" height="1.2" fill="#111"/>
<rect x="51.2" y="593.76" width="2" height="1.2" fill="#111"/>
<rect x="51.2" y="588.98" width="2" height="1.2" fill="#111"/>
<rect x="51.2" y="584.83" width="2" height="1.2" fill="#111"/>
<rect x="51.2" y="581.17" width="2" height="1.2" fill="#111"/>
<rect x="50.6" y="649.1" width="2.6" height="1.8" fill="#111"/>
<rect x="51.2" y="699.38" width="2" height="1.2" fill="#111"/>
<rect x="51.2" y="686.79" width="2" height="1.2" fill="#111"/>
<rect x="51.2" y="677.85" width="2" height="1.2" fill="#111"/>
<rect x="51.2" y="670.92" width="2" height="1.2" fill="#111"/>
<rect x="51.2" y="665.26" width="2" height="1.2" fill="#111"/>
<rect x="51.2" y="660.48" width="2" height="1.2" fill="#111"/>
<rect x="51.2" y="656.33" width="2" height="1.2" fill="#111"/>
<rect x="51.2" y="652.67" width="2" height="1.2" fill="#111"/>
<rect x="50.6" y="720.6" width="2.6" height="1.8" fill="#111"/>
<text x="30.7" y="584.7">10<tspan font-size="8.8" dx="-1" dy="-4.2">7</tspan></text>
<text x="30.7" y="656">10<tspan font-size="8.8" dx="-1" dy="-4.2">6</tspan></text>
<text x="30.7" y="724.4">10<tspan font-size="8.8" dx="-1" dy="-4.2">5</tspan></text>
<line x1="51" y1="721.3" x2="176.6" y2="721.3" stroke="#111" stroke-width="2"/>
<line x1="113.5" y1="571.2" x2="113.5" y2="720.3" stroke="#333" stroke-width="1" stroke-dasharray="1.5 1.3"/>
<rect x="57.3" y="655.4" width="11.6" height="66.9" fill="#dddbd9" stroke="#111" stroke-width="2"/>
<line x1="63.1" y1="721" x2="63.1" y2="724.2" stroke="#111" stroke-width="1.6"/>
<rect x="75.7" y="648.1" width="11.1" height="74.2" fill="#5c5755" stroke="#111" stroke-width="2"/>
<line x1="81.25" y1="721" x2="81.25" y2="724.2" stroke="#111" stroke-width="1.6"/>
<rect x="94.4" y="669.3" width="11" height="53" fill="#df3116" stroke="#111" stroke-width="2"/>
<line x1="99.9" y1="721" x2="99.9" y2="724.2" stroke="#111" stroke-width="1.6"/>
<rect x="124.9" y="596.8" width="11.6" height="125.5" fill="#dddbd9" stroke="#111" stroke-width="2"/>
<line x1="130.7" y1="721" x2="130.7" y2="724.2" stroke="#111" stroke-width="1.6"/>
<rect x="143.3" y="594.1" width="11.3" height="128.2" fill="#5c5755" stroke="#111" stroke-width="2"/>
<line x1="148.95" y1="721" x2="148.95" y2="724.2" stroke="#111" stroke-width="1.6"/>
<rect x="161.5" y="611.3" width="11.2" height="111" fill="#df3116" stroke="#111" stroke-width="2"/>
<line x1="167.1" y1="721" x2="167.1" y2="724.2" stroke="#111" stroke-width="1.6"/>
<text x="81.2" y="737.5" text-anchor="middle">BM</text>
<text x="148" y="737.8" text-anchor="middle">Spleen</text>
<line x1="62.6" y1="651.2" x2="62.6" y2="658.81" stroke="#111" stroke-width="1.6"/>
<line x1="58.6" y1="651.2" x2="66.6" y2="651.2" stroke="#111" stroke-width="1.6"/>
<line x1="58.6" y1="658.8" x2="66.6" y2="658.8" stroke="#111" stroke-width="1.6"/>
<line x1="81.2" y1="643.4" x2="81.2" y2="650.51" stroke="#111" stroke-width="1.6"/>
<line x1="77.2" y1="643.4" x2="85.2" y2="643.4" stroke="#111" stroke-width="1.6"/>
<line x1="77.2" y1="650.5" x2="85.2" y2="650.5" stroke="#111" stroke-width="1.6"/>
<line x1="99.6" y1="662.4" x2="99.6" y2="675.41" stroke="#111" stroke-width="1.6"/>
<line x1="95.6" y1="662.4" x2="103.6" y2="662.4" stroke="#111" stroke-width="1.6"/>
<line x1="95.6" y1="675.4" x2="103.6" y2="675.4" stroke="#111" stroke-width="1.6"/>
<line x1="130.7" y1="592.2" x2="130.7" y2="599.51" stroke="#111" stroke-width="1.6"/>
<line x1="126.7" y1="592.2" x2="134.7" y2="592.2" stroke="#111" stroke-width="1.6"/>
<line x1="126.7" y1="599.5" x2="134.7" y2="599.5" stroke="#111" stroke-width="1.6"/>
<line x1="149" y1="590" x2="149" y2="596.51" stroke="#111" stroke-width="1.6"/>
<line x1="145" y1="590" x2="153" y2="590" stroke="#111" stroke-width="1.6"/>
<line x1="145" y1="596.5" x2="153" y2="596.5" stroke="#111" stroke-width="1.6"/>
<line x1="167.3" y1="606.7" x2="167.3" y2="615.71" stroke="#111" stroke-width="1.6"/>
<line x1="163.3" y1="606.7" x2="171.3" y2="606.7" stroke="#111" stroke-width="1.6"/>
<line x1="163.3" y1="615.7" x2="171.3" y2="615.7" stroke="#111" stroke-width="1.6"/>
<ellipse cx="59.7" cy="642.1" rx="2.4" ry="2.1" fill="#111"/>
<ellipse cx="66" cy="643.3" rx="2.4" ry="2.1" fill="#111"/>
<ellipse cx="56.3" cy="653.4" rx="2.4" ry="2.1" fill="#111"/>
<ellipse cx="59.7" cy="654.9" rx="2.4" ry="2.1" fill="#111"/>
<ellipse cx="64.5" cy="652.8" rx="2.4" ry="2.1" fill="#111"/>
<ellipse cx="66.3" cy="652.8" rx="2.4" ry="2.1" fill="#111"/>
<ellipse cx="66" cy="659.7" rx="2.4" ry="2.1" fill="#111"/>
<ellipse cx="66" cy="671.4" rx="2.4" ry="2.1" fill="#111"/>
<ellipse cx="59.7" cy="676.7" rx="2.4" ry="2.1" fill="#111"/>
<ellipse cx="78.1" cy="631.1" rx="2.4" ry="2.1" fill="#111"/>
<ellipse cx="87.8" cy="633.8" rx="2.4" ry="2.1" fill="#111"/>
<ellipse cx="84.4" cy="637.9" rx="2.4" ry="2.1" fill="#111"/>
<ellipse cx="78.1" cy="640.2" rx="2.4" ry="2.1" fill="#111"/>
<ellipse cx="81" cy="645.7" rx="2.4" ry="2.1" fill="#111"/>
<ellipse cx="79.1" cy="648.6" rx="2.4" ry="2.1" fill="#111"/>
<ellipse cx="83.4" cy="652.5" rx="2.4" ry="2.1" fill="#111"/>
<ellipse cx="81" cy="654.4" rx="2.4" ry="2.1" fill="#111"/>
<ellipse cx="78.1" cy="662.6" rx="2.4" ry="2.1" fill="#111"/>
<ellipse cx="84.4" cy="663.6" rx="2.4" ry="2.1" fill="#111"/>
<ellipse cx="81" cy="673.1" rx="2.4" ry="2.1" fill="#111"/>
<ellipse cx="99.6" cy="653.7" rx="2.4" ry="2.1" fill="#111"/>
<ellipse cx="103.1" cy="657" rx="2.4" ry="2.1" fill="#111"/>
<ellipse cx="96.5" cy="662.2" rx="2.4" ry="2.1" fill="#111"/>
<ellipse cx="96.5" cy="674.7" rx="2.4" ry="2.1" fill="#111"/>
<ellipse cx="103.1" cy="680.6" rx="2.4" ry="2.1" fill="#111"/>
<ellipse cx="99.6" cy="709" rx="2.4" ry="2.1" fill="#111"/>
<ellipse cx="130.7" cy="578.3" rx="2.4" ry="2.1" fill="#111"/>
<ellipse cx="130.7" cy="588.3" rx="2.4" ry="2.1" fill="#111"/>
<ellipse cx="126.6" cy="599.4" rx="2.4" ry="2.1" fill="#111"/>
<ellipse cx="129.8" cy="601.2" rx="2.4" ry="2.1" fill="#111"/>
<ellipse cx="131.6" cy="603.9" rx="2.4" ry="2.1" fill="#111"/>
<ellipse cx="134.3" cy="599.9" rx="2.4" ry="2.1" fill="#111"/>
<ellipse cx="130.7" cy="610.7" rx="2.4" ry="2.1" fill="#111"/>
<ellipse cx="128.4" cy="599" rx="2.4" ry="2.1" fill="#111"/>
<ellipse cx="152.2" cy="580.1" rx="2.4" ry="2.1" fill="#111"/>
<ellipse cx="145.6" cy="583.4" rx="2.4" ry="2.1" fill="#111"/>
<ellipse cx="145.9" cy="589" rx="2.4" ry="2.1" fill="#111"/>
<ellipse cx="152.2" cy="589.5" rx="2.4" ry="2.1" fill="#111"/>
<ellipse cx="151.5" cy="591" rx="2.4" ry="2.1" fill="#111"/>
<ellipse cx="147" cy="593.1" rx="2.4" ry="2.1" fill="#111"/>
<ellipse cx="147.9" cy="596.2" rx="2.4" ry="2.1" fill="#111"/>
<ellipse cx="151" cy="597.1" rx="2.4" ry="2.1" fill="#111"/>
<ellipse cx="151" cy="599" rx="2.4" ry="2.1" fill="#111"/>
<ellipse cx="147" cy="601.7" rx="2.4" ry="2.1" fill="#111"/>
<ellipse cx="148.8" cy="603.5" rx="2.4" ry="2.1" fill="#111"/>
<ellipse cx="148.8" cy="611.6" rx="2.4" ry="2.1" fill="#111"/>
<ellipse cx="167.3" cy="596.9" rx="2.4" ry="2.1" fill="#111"/>
<ellipse cx="170.3" cy="603.7" rx="2.4" ry="2.1" fill="#111"/>
<ellipse cx="164.2" cy="605.7" rx="2.4" ry="2.1" fill="#111"/>
<ellipse cx="167.3" cy="617.5" rx="2.4" ry="2.1" fill="#111"/>
<ellipse cx="164" cy="624.8" rx="2.4" ry="2.1" fill="#111"/>
<ellipse cx="170.7" cy="624.5" rx="2.4" ry="2.1" fill="#111"/>
<path d="M75.5 622.1 V619.3 H103.4 V622.1" fill="none" stroke="#444" stroke-width="1"/>
<text x="85.38" y="623.21" font-size="17.5" stroke="#111" stroke-width="0.1">*</text>
<text x="64.2" y="605.5" font-size="10.7">p=0.0231</text>
<path d="M143.3 573.4 V570.6 H171.5 V573.4" fill="none" stroke="#444" stroke-width="1"/>
<text x="153.68" y="573.61" font-size="17.5" stroke="#111" stroke-width="0.1">*</text>
<text x="133.2" y="555.8" font-size="10.7">p=0.0201</text>
<rect x="183.6" y="557.1" width="14.2" height="14.2" fill="#dddbd9" stroke="#111" stroke-width="2"/>
<rect x="183.6" y="575.8" width="14.2" height="13.3" fill="#5c5755" stroke="#111" stroke-width="2"/>
<rect x="183.6" y="594.4" width="14.2" height="13.4" fill="#df3116" stroke="#111" stroke-width="2"/>
<text x="203.9" y="565.7">naive</text>
<text x="201.5" y="586.1">FV Slc7a5<tspan font-size="8.2" dy="-4">NK-WT</tspan></text>
<text x="201.5" y="604.2">FV Slc7a5<tspan font-size="8.2" dy="-4">NK-KO</tspan></text>
<text x="369.4" y="560.5" font-weight="bold" font-size="14.5">f</text>
<text transform="translate(381.2,643) rotate(-90)" text-anchor="middle">KI-67<tspan font-size="9" dy="-4.5">+</tspan><tspan dy="4.5"> NK cells</tspan></text>
<text transform="translate(397.6,641) rotate(-90)" text-anchor="middle">(Total numbers)</text>
<rect x="423.2" y="575.8" width="2" height="147.7" fill="#111"/>
<rect x="420.6" y="575.9" width="2.6" height="1.8" fill="#111"/>
<rect x="421.2" y="610.38" width="2" height="1.2" fill="#111"/>
<rect x="421.2" y="601.77" width="2" height="1.2" fill="#111"/>
<rect x="421.2" y="595.66" width="2" height="1.2" fill="#111"/>
<rect x="421.2" y="590.92" width="2" height="1.2" fill="#111"/>
<rect x="421.2" y="587.05" width="2" height="1.2" fill="#111"/>
<rect x="421.2" y="583.77" width="2" height="1.2" fill="#111"/>
<rect x="421.2" y="580.94" width="2" height="1.2" fill="#111"/>
<rect x="421.2" y="578.44" width="2" height="1.2" fill="#111"/>
<rect x="420.6" y="624.8" width="2.6" height="1.8" fill="#111"/>
<rect x="421.2" y="659.28" width="2" height="1.2" fill="#111"/>
<rect x="421.2" y="650.67" width="2" height="1.2" fill="#111"/>
<rect x="421.2" y="644.56" width="2" height="1.2" fill="#111"/>
<rect x="421.2" y="639.82" width="2" height="1.2" fill="#111"/>
<rect x="421.2" y="635.95" width="2" height="1.2" fill="#111"/>
<rect x="421.2" y="632.67" width="2" height="1.2" fill="#111"/>
<rect x="421.2" y="629.84" width="2" height="1.2" fill="#111"/>
<rect x="421.2" y="627.34" width="2" height="1.2" fill="#111"/>
<rect x="420.6" y="673.7" width="2.6" height="1.8" fill="#111"/>
<rect x="421.2" y="708.18" width="2" height="1.2" fill="#111"/>
<rect x="421.2" y="699.57" width="2" height="1.2" fill="#111"/>
<rect x="421.2" y="693.46" width="2" height="1.2" fill="#111"/>
<rect x="421.2" y="688.72" width="2" height="1.2" fill="#111"/>
<rect x="421.2" y="684.85" width="2" height="1.2" fill="#111"/>
<rect x="421.2" y="681.57" width="2" height="1.2" fill="#111"/>
<rect x="421.2" y="678.74" width="2" height="1.2" fill="#111"/>
<rect x="421.2" y="676.24" width="2" height="1.2" fill="#111"/>
<text x="401.8" y="582.9">10<tspan font-size="8.8" dx="-1" dy="-4.2">7</tspan></text>
<text x="401.8" y="631.2">10<tspan font-size="8.8" dx="-1" dy="-4.2">6</tspan></text>
<text x="401.8" y="681">10<tspan font-size="8.8" dx="-1" dy="-4.2">5</tspan></text>
<line x1="421" y1="722.5" x2="547" y2="722.5" stroke="#111" stroke-width="2"/>
<line x1="485.5" y1="570.6" x2="485.5" y2="721.5" stroke="#333" stroke-width="1" stroke-dasharray="1.5 1.3"/>
<rect x="427.8" y="665.4" width="11.1" height="58.1" fill="#dddbd9" stroke="#111" stroke-width="2"/>
<line x1="433.35" y1="722" x2="433.35" y2="725.4" stroke="#111" stroke-width="1.6"/>
<rect x="446.2" y="640.3" width="11.3" height="83.2" fill="#5c5755" stroke="#111" stroke-width="2"/>
<line x1="451.85" y1="722" x2="451.85" y2="725.4" stroke="#111" stroke-width="1.6"/>
<rect x="464.6" y="654.5" width="11" height="69" fill="#df3116" stroke="#111" stroke-width="2"/>
<line x1="470.1" y1="722" x2="470.1" y2="725.4" stroke="#111" stroke-width="1.6"/>
<rect x="494.9" y="629" width="11.3" height="94.5" fill="#dddbd9" stroke="#111" stroke-width="2"/>
<line x1="500.55" y1="722" x2="500.55" y2="725.4" stroke="#111" stroke-width="1.6"/>
<rect x="513.3" y="604.8" width="11" height="118.7" fill="#5c5755" stroke="#111" stroke-width="2"/>
<line x1="518.8" y1="722" x2="518.8" y2="725.4" stroke="#111" stroke-width="1.6"/>
<rect x="531.5" y="614.3" width="10.9" height="109.2" fill="#df3116" stroke="#111" stroke-width="2"/>
<line x1="536.95" y1="722" x2="536.95" y2="725.4" stroke="#111" stroke-width="1.6"/>
<text x="451" y="736.5" text-anchor="middle">BM</text>
<text x="518.5" y="736.5" text-anchor="middle">Spleen</text>
<line x1="433.1" y1="662.1" x2="433.1" y2="667.51" stroke="#111" stroke-width="1.6"/>
<line x1="429.1" y1="662.1" x2="437.1" y2="662.1" stroke="#111" stroke-width="1.6"/>
<line x1="429.1" y1="667.5" x2="437.1" y2="667.5" stroke="#111" stroke-width="1.6"/>
<line x1="451.8" y1="635.9" x2="451.8" y2="641.71" stroke="#111" stroke-width="1.6"/>
<line x1="447.8" y1="635.9" x2="455.8" y2="635.9" stroke="#111" stroke-width="1.6"/>
<line x1="447.8" y1="641.7" x2="455.8" y2="641.7" stroke="#111" stroke-width="1.6"/>
<line x1="470.2" y1="648.7" x2="470.2" y2="658.51" stroke="#111" stroke-width="1.6"/>
<line x1="466.2" y1="648.7" x2="474.2" y2="648.7" stroke="#111" stroke-width="1.6"/>
<line x1="466.2" y1="658.5" x2="474.2" y2="658.5" stroke="#111" stroke-width="1.6"/>
<line x1="500.5" y1="624.8" x2="500.5" y2="630.51" stroke="#111" stroke-width="1.6"/>
<line x1="496.5" y1="624.8" x2="504.5" y2="624.8" stroke="#111" stroke-width="1.6"/>
<line x1="496.5" y1="630.5" x2="504.5" y2="630.5" stroke="#111" stroke-width="1.6"/>
<line x1="518.8" y1="601.5" x2="518.8" y2="606.51" stroke="#111" stroke-width="1.6"/>
<line x1="514.8" y1="601.5" x2="522.8" y2="601.5" stroke="#111" stroke-width="1.6"/>
<line x1="514.8" y1="606.5" x2="522.8" y2="606.5" stroke="#111" stroke-width="1.6"/>
<line x1="537" y1="610.4" x2="537" y2="616.71" stroke="#111" stroke-width="1.6"/>
<line x1="533" y1="610.4" x2="541" y2="610.4" stroke="#111" stroke-width="1.6"/>
<line x1="533" y1="616.7" x2="541" y2="616.7" stroke="#111" stroke-width="1.6"/>
<ellipse cx="431.3" cy="655.8" rx="2.4" ry="2.1" fill="#111"/>
<ellipse cx="435.6" cy="658" rx="2.4" ry="2.1" fill="#111"/>
<ellipse cx="434" cy="659.8" rx="2.4" ry="2.1" fill="#111"/>
<ellipse cx="430.4" cy="667.5" rx="2.4" ry="2.1" fill="#111"/>
<ellipse cx="436.7" cy="669.3" rx="2.4" ry="2.1" fill="#111"/>
<ellipse cx="433.1" cy="682.9" rx="2.4" ry="2.1" fill="#111"/>
<ellipse cx="447.6" cy="632.7" rx="2.4" ry="2.1" fill="#111"/>
<ellipse cx="455.7" cy="632.2" rx="2.4" ry="2.1" fill="#111"/>
<ellipse cx="450.8" cy="635" rx="2.4" ry="2.1" fill="#111"/>
<ellipse cx="453.9" cy="634.5" rx="2.4" ry="2.1" fill="#111"/>
<ellipse cx="451.7" cy="636.8" rx="2.4" ry="2.1" fill="#111"/>
<ellipse cx="450.3" cy="646.3" rx="2.4" ry="2.1" fill="#111"/>
<ellipse cx="451.2" cy="647.2" rx="2.4" ry="2.1" fill="#111"/>
<ellipse cx="452.6" cy="653.5" rx="2.4" ry="2.1" fill="#111"/>
<ellipse cx="468" cy="645.4" rx="2.4" ry="2.1" fill="#111"/>
<ellipse cx="472.5" cy="644.9" rx="2.4" ry="2.1" fill="#111"/>
<ellipse cx="470.2" cy="647.2" rx="2.4" ry="2.1" fill="#111"/>
<ellipse cx="469.8" cy="662.6" rx="2.4" ry="2.1" fill="#111"/>
<ellipse cx="469.8" cy="697" rx="2.4" ry="2.1" fill="#111"/>
<ellipse cx="503.6" cy="618.1" rx="2.4" ry="2.1" fill="#111"/>
<ellipse cx="497" cy="624.2" rx="2.4" ry="2.1" fill="#111"/>
<ellipse cx="498.9" cy="629.8" rx="2.4" ry="2.1" fill="#111"/>
<ellipse cx="501.6" cy="630.7" rx="2.4" ry="2.1" fill="#111"/>
<ellipse cx="500.2" cy="631.6" rx="2.4" ry="2.1" fill="#111"/>
<ellipse cx="500.2" cy="641.6" rx="2.4" ry="2.1" fill="#111"/>
<ellipse cx="514.7" cy="598.6" rx="2.4" ry="2.1" fill="#111"/>
<ellipse cx="522.8" cy="599.8" rx="2.4" ry="2.1" fill="#111"/>
<ellipse cx="518.3" cy="601.8" rx="2.4" ry="2.1" fill="#111"/>
<ellipse cx="518.8" cy="604" rx="2.4" ry="2.1" fill="#111"/>
<ellipse cx="516.1" cy="604.9" rx="2.4" ry="2.1" fill="#111"/>
<ellipse cx="520.6" cy="605.4" rx="2.4" ry="2.1" fill="#111"/>
<ellipse cx="518.3" cy="608.6" rx="2.4" ry="2.1" fill="#111"/>
<ellipse cx="536.9" cy="604" rx="2.4" ry="2.1" fill="#111"/>
<ellipse cx="540.3" cy="607.4" rx="2.4" ry="2.1" fill="#111"/>
<ellipse cx="530.5" cy="612.6" rx="2.4" ry="2.1" fill="#111"/>
<ellipse cx="533.2" cy="614.4" rx="2.4" ry="2.1" fill="#111"/>
<ellipse cx="540.3" cy="621.2" rx="2.4" ry="2.1" fill="#111"/>
<ellipse cx="536.9" cy="627.8" rx="2.4" ry="2.1" fill="#111"/>
<text x="423.2" y="573.3" font-size="10.7">p=0.0006</text>
<text x="438.9" y="585.2" font-size="10.7">p=0.0125</text>
<path d="M429.9 603.2 V600.4 H453.6 V603.2" fill="none" stroke="#444" stroke-width="1"/>
<text x="431.46" y="603.65" font-size="16.8" stroke="#111" stroke-width="0.1">*</text>
<text x="440.21" y="603.65" font-size="16.8" stroke="#111" stroke-width="0.1">*</text>
<text x="448.96" y="603.65" font-size="16.8" stroke="#111" stroke-width="0.1">*</text>
<path d="M449.2 624.6 V621.8 H473.7 V624.6" fill="none" stroke="#444" stroke-width="1"/>
<text x="454.81" y="625.45" font-size="16.8" stroke="#111" stroke-width="0.1">*</text>
<text x="464.01" y="625.45" font-size="16.8" stroke="#111" stroke-width="0.1">*</text>
<text x="483.8" y="562.8" font-size="10.7">p&lt;0.0001</text>
<path d="M491.4 579.6 V576.8 H515.9 V579.6" fill="none" stroke="#444" stroke-width="1"/>
<text x="491.56" y="580.15" font-size="16.8" stroke="#111" stroke-width="0.1">*</text>
<text x="500.71" y="580.15" font-size="16.8" stroke="#111" stroke-width="0.1">*</text>
<text x="509.86" y="580.15" font-size="16.8" stroke="#111" stroke-width="0.1">*</text>
<text x="520" y="572.9" font-size="10.7">p=0.0031</text>
<path d="M516.4 590.1 V587.3 H541.3 V590.1" fill="none" stroke="#444" stroke-width="1"/>
<text x="518.56" y="591.25" font-size="16.8" stroke="#111" stroke-width="0.1">*</text>
<text x="528.26" y="591.25" font-size="16.8" stroke="#111" stroke-width="0.1">*</text>
<rect x="571.6" y="559.4" width="14.9" height="13.2" fill="#dddbd9" stroke="#111" stroke-width="2"/>
<rect x="571.6" y="577.8" width="14.9" height="13.4" fill="#5c5755" stroke="#111" stroke-width="2"/>
<rect x="571.6" y="596.7" width="14.9" height="13.2" fill="#df3116" stroke="#111" stroke-width="2"/>
<text x="592.2" y="568.2">naive</text>
<text x="590.8" y="587.8">FV Slc7a5<tspan font-size="8.2" dy="-4">NK-WT</tspan></text>
<text x="590.8" y="605.7">FV Slc7a5<tspan font-size="8.2" dy="-4">NK-KO</tspan></text>
<text x="17" y="784.9" font-weight="bold" font-size="14.5">g</text>
<text transform="translate(24.9,886) rotate(-90)" text-anchor="middle">% Specific Killing</text>
<rect x="46.2" y="811.2" width="2" height="149.6" fill="#111"/>
<rect x="43.8" y="811.12" width="2.4" height="1.6" fill="#111"/>
<rect x="43.6" y="848.19" width="2.6" height="1.6" fill="#111"/>
<rect x="43.8" y="885.26" width="2.4" height="1.6" fill="#111"/>
<rect x="43.6" y="922.33" width="2.6" height="1.6" fill="#111"/>
<text x="45.4" y="816.1" text-anchor="end" font-size="15">80</text>
<text x="44.8" y="890.8" text-anchor="end" font-size="15">40</text>
<line x1="44" y1="960.2" x2="168.3" y2="960.2" stroke="#111" stroke-width="2"/>
<line x1="107.5" y1="807.7" x2="107.5" y2="959.2" stroke="#333" stroke-width="1" stroke-dasharray="1.5 1.3"/>
<rect x="50.7" y="925.2" width="10.7" height="36" fill="#dddbd9" stroke="#111" stroke-width="2"/>
<line x1="56.05" y1="960" x2="56.05" y2="963.2" stroke="#111" stroke-width="1.6"/>
<rect x="68.7" y="890.2" width="11.1" height="71" fill="#5c5755" stroke="#111" stroke-width="2"/>
<line x1="74.25" y1="960" x2="74.25" y2="963.2" stroke="#111" stroke-width="1.6"/>
<rect x="87.2" y="909.5" width="10.7" height="51.7" fill="#df3116" stroke="#111" stroke-width="2"/>
<line x1="92.55" y1="960" x2="92.55" y2="963.2" stroke="#111" stroke-width="1.6"/>
<rect x="117.2" y="886.4" width="11.8" height="74.8" fill="#dddbd9" stroke="#111" stroke-width="2"/>
<line x1="123.1" y1="960" x2="123.1" y2="963.2" stroke="#111" stroke-width="1.6"/>
<rect x="135.3" y="862.5" width="11.6" height="98.7" fill="#5c5755" stroke="#111" stroke-width="2"/>
<line x1="141.1" y1="960" x2="141.1" y2="963.2" stroke="#111" stroke-width="1.6"/>
<rect x="154.2" y="891.8" width="10.6" height="69.4" fill="#df3116" stroke="#111" stroke-width="2"/>
<line x1="159.5" y1="960" x2="159.5" y2="963.2" stroke="#111" stroke-width="1.6"/>
<text x="75.95" y="979.8" text-anchor="middle">FBL-3</text>
<text x="143.95" y="979.8" text-anchor="middle">YAC-1</text>
<line x1="56" y1="921" x2="56" y2="927.21" stroke="#111" stroke-width="1.6"/>
<line x1="52" y1="921" x2="60" y2="921" stroke="#111" stroke-width="1.6"/>
<line x1="52" y1="927.2" x2="60" y2="927.2" stroke="#111" stroke-width="1.6"/>
<line x1="74.2" y1="883.4" x2="74.2" y2="895.31" stroke="#111" stroke-width="1.6"/>
<line x1="70.2" y1="883.4" x2="78.2" y2="883.4" stroke="#111" stroke-width="1.6"/>
<line x1="70.2" y1="895.3" x2="78.2" y2="895.3" stroke="#111" stroke-width="1.6"/>
<line x1="92.5" y1="905.5" x2="92.5" y2="911.81" stroke="#111" stroke-width="1.6"/>
<line x1="88.5" y1="905.5" x2="96.5" y2="905.5" stroke="#111" stroke-width="1.6"/>
<line x1="88.5" y1="911.8" x2="96.5" y2="911.8" stroke="#111" stroke-width="1.6"/>
<line x1="123" y1="883.6" x2="123" y2="887.21" stroke="#111" stroke-width="1.6"/>
<line x1="119" y1="883.6" x2="127" y2="883.6" stroke="#111" stroke-width="1.6"/>
<line x1="119" y1="887.2" x2="127" y2="887.2" stroke="#111" stroke-width="1.6"/>
<line x1="141.1" y1="858.5" x2="141.1" y2="864.51" stroke="#111" stroke-width="1.6"/>
<line x1="137.1" y1="858.5" x2="145.1" y2="858.5" stroke="#111" stroke-width="1.6"/>
<line x1="137.1" y1="864.5" x2="145.1" y2="864.5" stroke="#111" stroke-width="1.6"/>
<line x1="159.5" y1="889.2" x2="159.5" y2="892.41" stroke="#111" stroke-width="1.6"/>
<line x1="155.5" y1="889.2" x2="163.5" y2="889.2" stroke="#111" stroke-width="1.6"/>
<line x1="155.5" y1="892.4" x2="163.5" y2="892.4" stroke="#111" stroke-width="1.6"/>
<ellipse cx="56" cy="914.3" rx="2.4" ry="2.1" fill="#111"/>
<ellipse cx="53.1" cy="920.1" rx="2.4" ry="2.1" fill="#111"/>
<ellipse cx="59.2" cy="922.5" rx="2.4" ry="2.1" fill="#111"/>
<ellipse cx="54.1" cy="925.7" rx="2.4" ry="2.1" fill="#111"/>
<ellipse cx="57" cy="928.3" rx="2.4" ry="2.1" fill="#111"/>
<ellipse cx="56" cy="932.3" rx="2.4" ry="2.1" fill="#111"/>
<ellipse cx="58.5" cy="926" rx="2.4" ry="2.1" fill="#111"/>
<ellipse cx="71.5" cy="861.4" rx="2.4" ry="2.1" fill="#111"/>
<ellipse cx="77.1" cy="862" rx="2.4" ry="2.1" fill="#111"/>
<ellipse cx="71.5" cy="870.2" rx="2.4" ry="2.1" fill="#111"/>
<ellipse cx="77.1" cy="869.5" rx="2.4" ry="2.1" fill="#111"/>
<ellipse cx="72.3" cy="897.2" rx="2.4" ry="2.1" fill="#111"/>
<ellipse cx="74.5" cy="899.1" rx="2.4" ry="2.1" fill="#111"/>
<ellipse cx="73.8" cy="900.9" rx="2.4" ry="2.1" fill="#111"/>
<ellipse cx="76" cy="897.5" rx="2.4" ry="2.1" fill="#111"/>
<ellipse cx="77.4" cy="909.3" rx="2.4" ry="2.1" fill="#111"/>
<ellipse cx="71.2" cy="914.3" rx="2.4" ry="2.1" fill="#111"/>
<ellipse cx="92.5" cy="894.7" rx="2.4" ry="2.1" fill="#111"/>
<ellipse cx="96" cy="902.3" rx="2.4" ry="2.1" fill="#111"/>
<ellipse cx="86.2" cy="906" rx="2.4" ry="2.1" fill="#111"/>
<ellipse cx="89.6" cy="907" rx="2.4" ry="2.1" fill="#111"/>
<ellipse cx="96.4" cy="912.6" rx="2.4" ry="2.1" fill="#111"/>
<ellipse cx="96" cy="918.1" rx="2.4" ry="2.1" fill="#111"/>
<ellipse cx="89.6" cy="922" rx="2.4" ry="2.1" fill="#111"/>
<ellipse cx="122.9" cy="876.6" rx="2.4" ry="2.1" fill="#111"/>
<ellipse cx="120.3" cy="880.7" rx="2.4" ry="2.1" fill="#111"/>
<ellipse cx="125.6" cy="880.1" rx="2.4" ry="2.1" fill="#111"/>
<ellipse cx="122.9" cy="879.8" rx="2.4" ry="2.1" fill="#111"/>
<ellipse cx="122.9" cy="885.5" rx="2.4" ry="2.1" fill="#111"/>
<ellipse cx="126" cy="892.1" rx="2.4" ry="2.1" fill="#111"/>
<ellipse cx="119.7" cy="896.9" rx="2.4" ry="2.1" fill="#111"/>
<ellipse cx="141.2" cy="827.8" rx="2.4" ry="2.1" fill="#111"/>
<ellipse cx="141.3" cy="850.7" rx="2.4" ry="2.1" fill="#111"/>
<ellipse cx="144.4" cy="855.9" rx="2.4" ry="2.1" fill="#111"/>
<ellipse cx="138.3" cy="859.1" rx="2.4" ry="2.1" fill="#111"/>
<ellipse cx="140" cy="862.3" rx="2.4" ry="2.1" fill="#111"/>
<ellipse cx="141.8" cy="863.6" rx="2.4" ry="2.1" fill="#111"/>
<ellipse cx="140.5" cy="866.7" rx="2.4" ry="2.1" fill="#111"/>
<ellipse cx="142.5" cy="864.5" rx="2.4" ry="2.1" fill="#111"/>
<ellipse cx="144.4" cy="876.1" rx="2.4" ry="2.1" fill="#111"/>
<ellipse cx="138.1" cy="880.7" rx="2.4" ry="2.1" fill="#111"/>
<ellipse cx="157.5" cy="889.5" rx="2.4" ry="2.1" fill="#111"/>
<ellipse cx="161.5" cy="887.7" rx="2.4" ry="2.1" fill="#111"/>
<ellipse cx="159.7" cy="890.8" rx="2.4" ry="2.1" fill="#111"/>
<ellipse cx="159.3" cy="898.2" rx="2.4" ry="2.1" fill="#111"/>
<text x="50.3" y="825" font-size="10.6">p=0.0004</text>
<text x="75.4" y="836.6" font-size="10.6">p=0.07</text>
<path d="M51.2 854.7 V852.3 H75.5 V854.7" fill="none" stroke="#444" stroke-width="1"/>
<text x="52.81" y="855.25" font-size="16.8" stroke="#111" stroke-width="0.1">*</text>
<text x="61.51" y="855.25" font-size="16.8" stroke="#111" stroke-width="0.1">*</text>
<text x="70.21" y="855.25" font-size="16.8" stroke="#111" stroke-width="0.1">*</text>
<path d="M77.3 860.7 V858.5 H105.7 V860.7" fill="none" stroke="#444" stroke-width="1"/>
<text x="91.4" y="855.3" text-anchor="middle">ns</text>
<text x="107.3" y="788.4" font-size="10.6">p=0.0008</text>
<text x="123.9" y="798" font-size="10.6">p&lt;0.0001</text>
<path d="M112.8 814.7 V812.4 H136.8 V814.7" fill="none" stroke="#444" stroke-width="1"/>
<text x="114.56" y="816.25" font-size="16.8" stroke="#111" stroke-width="0.1">*</text>
<text x="123.11" y="816.25" font-size="16.8" stroke="#111" stroke-width="0.1">*</text>
<text x="131.66" y="816.25" font-size="16.8" stroke="#111" stroke-width="0.1">*</text>
<path d="M137.7 826 V823.4 H161.6 V826" fill="none" stroke="#444" stroke-width="1"/>
<text x="137.36" y="828.05" font-size="16.8" stroke="#111" stroke-width="0.1">*</text>
<text x="146.31" y="828.05" font-size="16.8" stroke="#111" stroke-width="0.1">*</text>
<text x="155.26" y="828.05" font-size="16.8" stroke="#111" stroke-width="0.1">*</text>
<rect x="172.8" y="799.5" width="14.6" height="13.8" fill="#dddbd9" stroke="#111" stroke-width="2"/>
<rect x="172.8" y="818.3" width="14.6" height="13.4" fill="#5c5755" stroke="#111" stroke-width="2"/>
<rect x="172.8" y="836.7" width="14.6" height="13.7" fill="#df3116" stroke="#111" stroke-width="2"/>
<text x="193.3" y="808.7">naive</text>
<text x="191.6" y="828.6">FV Slc7a5<tspan font-size="8.2" dy="-4">NK-WT</tspan></text>
<text x="191.6" y="847.2">FV Slc7a5<tspan font-size="8.2" dy="-4">NK-KO</tspan></text>
<text x="359.2" y="788.9" font-weight="bold" font-size="14.5">h</text>
<text transform="translate(394.9,870.7) rotate(-90)" text-anchor="middle">FV-infected cells (per 10<tspan font-size="9" dy="-5.2">6</tspan><tspan dy="5.2">)</tspan></text>
<rect x="430.3" y="797.5" width="2" height="152.3" fill="#111"/>
<rect x="427.7" y="797" width="2.6" height="1.8" fill="#111"/>
<rect x="428.3" y="832.74" width="2" height="1.2" fill="#111"/>
<rect x="428.3" y="823.81" width="2" height="1.2" fill="#111"/>
<rect x="428.3" y="817.48" width="2" height="1.2" fill="#111"/>
<rect x="428.3" y="812.56" width="2" height="1.2" fill="#111"/>
<rect x="428.3" y="808.55" width="2" height="1.2" fill="#111"/>
<rect x="428.3" y="805.15" width="2" height="1.2" fill="#111"/>
<rect x="428.3" y="802.21" width="2" height="1.2" fill="#111"/>
<rect x="428.3" y="799.62" width="2" height="1.2" fill="#111"/>
<rect x="427.7" y="847.7" width="2.6" height="1.8" fill="#111"/>
<rect x="428.3" y="883.44" width="2" height="1.2" fill="#111"/>
<rect x="428.3" y="874.51" width="2" height="1.2" fill="#111"/>
<rect x="428.3" y="868.18" width="2" height="1.2" fill="#111"/>
<rect x="428.3" y="863.26" width="2" height="1.2" fill="#111"/>
<rect x="428.3" y="859.25" width="2" height="1.2" fill="#111"/>
<rect x="428.3" y="855.85" width="2" height="1.2" fill="#111"/>
<rect x="428.3" y="852.91" width="2" height="1.2" fill="#111"/>
<rect x="428.3" y="850.32" width="2" height="1.2" fill="#111"/>
<rect x="427.7" y="898.4" width="2.6" height="1.8" fill="#111"/>
<rect x="428.3" y="934.14" width="2" height="1.2" fill="#111"/>
<rect x="428.3" y="925.21" width="2" height="1.2" fill="#111"/>
<rect x="428.3" y="918.88" width="2" height="1.2" fill="#111"/>
<rect x="428.3" y="913.96" width="2" height="1.2" fill="#111"/>
<rect x="428.3" y="909.95" width="2" height="1.2" fill="#111"/>
<rect x="428.3" y="906.55" width="2" height="1.2" fill="#111"/>
<rect x="428.3" y="903.61" width="2" height="1.2" fill="#111"/>
<rect x="428.3" y="901.02" width="2" height="1.2" fill="#111"/>
<text x="408.1" y="802.8">10<tspan font-size="8.8" dx="-1" dy="-4.2">6</tspan></text>
<text x="408.1" y="852.7">10<tspan font-size="8.8" dx="-1" dy="-4.2">5</tspan></text>
<text x="408.1" y="904.4">10<tspan font-size="8.8" dx="-1" dy="-4.2">4</tspan></text>
<line x1="430.2" y1="948.8" x2="532.3" y2="948.8" stroke="#111" stroke-width="2"/>
<rect x="437.4" y="819.1" width="14.4" height="130.7" fill="#5c5755" stroke="#111" stroke-width="2"/>
<line x1="444.6" y1="948.5" x2="444.6" y2="952.2" stroke="#111" stroke-width="1.6"/>
<rect x="462.9" y="818.2" width="13.9" height="131.6" fill="#df3116" stroke="#111" stroke-width="2"/>
<line x1="469.85" y1="948.5" x2="469.85" y2="952.2" stroke="#111" stroke-width="1.6"/>
<rect x="487.7" y="886.2" width="14.1" height="63.6" fill="#5c5755" stroke="#111" stroke-width="2"/>
<line x1="494.75" y1="948.5" x2="494.75" y2="952.2" stroke="#111" stroke-width="1.6"/>
<rect x="513.2" y="890.4" width="13.5" height="59.4" fill="#df3116" stroke="#111" stroke-width="2"/>
<line x1="519.95" y1="948.5" x2="519.95" y2="952.2" stroke="#111" stroke-width="1.6"/>
<text x="458.9" y="965.6" text-anchor="middle">BM</text>
<text x="506.9" y="965.6" text-anchor="middle">Spleen</text>
<line x1="444.6" y1="805.5" x2="444.6" y2="838.01" stroke="#111" stroke-width="1.6"/>
<line x1="440.1" y1="805.5" x2="449.1" y2="805.5" stroke="#111" stroke-width="1.6"/>
<line x1="440.1" y1="838" x2="449.1" y2="838" stroke="#111" stroke-width="1.6"/>
<line x1="469.8" y1="808.6" x2="469.8" y2="829.61" stroke="#111" stroke-width="1.6"/>
<line x1="465.3" y1="808.6" x2="474.3" y2="808.6" stroke="#111" stroke-width="1.6"/>
<line x1="465.3" y1="829.6" x2="474.3" y2="829.6" stroke="#111" stroke-width="1.6"/>
<line x1="494.8" y1="872.2" x2="494.8" y2="923.31" stroke="#111" stroke-width="1.6"/>
<line x1="490.3" y1="872.2" x2="499.3" y2="872.2" stroke="#111" stroke-width="1.6"/>
<line x1="490.3" y1="923.3" x2="499.3" y2="923.3" stroke="#111" stroke-width="1.6"/>
<line x1="519.8" y1="878.1" x2="519.8" y2="911.01" stroke="#111" stroke-width="1.6"/>
<line x1="515.3" y1="878.1" x2="524.3" y2="878.1" stroke="#111" stroke-width="1.6"/>
<line x1="515.3" y1="911" x2="524.3" y2="911" stroke="#111" stroke-width="1.6"/>
<circle cx="438.4" cy="803.9" r="2.3" fill="#111"/>
<circle cx="444.6" cy="804.6" r="2.3" fill="#111"/>
<circle cx="450.6" cy="805.3" r="2.3" fill="#111"/>
<circle cx="441.5" cy="807.9" r="2.3" fill="#111"/>
<circle cx="447.3" cy="808.2" r="2.3" fill="#111"/>
<circle cx="444.4" cy="811.5" r="2.3" fill="#111"/>
<circle cx="444.6" cy="821.8" r="2.3" fill="#111"/>
<circle cx="444.6" cy="828.7" r="2.3" fill="#111"/>
<circle cx="441.5" cy="833.1" r="2.3" fill="#111"/>
<circle cx="450.6" cy="831.2" r="2.3" fill="#111"/>
<circle cx="438.4" cy="837.8" r="2.3" fill="#111"/>
<circle cx="450.2" cy="838.5" r="2.3" fill="#111"/>
<circle cx="446.6" cy="835.3" r="2.3" fill="#111"/>
<circle cx="443" cy="835.3" r="2.3" fill="#111"/>
<circle cx="466.7" cy="806.4" r="2.3" fill="#111"/>
<circle cx="472.9" cy="807.2" r="2.3" fill="#111"/>
<circle cx="463.8" cy="821" r="2.3" fill="#111"/>
<circle cx="475.8" cy="821" r="2.3" fill="#111"/>
<circle cx="469.8" cy="823.6" r="2.3" fill="#111"/>
<circle cx="469.8" cy="830.5" r="2.3" fill="#111"/>
<circle cx="494.8" cy="861.6" r="2.3" fill="#111"/>
<circle cx="488.6" cy="874.9" r="2.3" fill="#111"/>
<circle cx="501.2" cy="872.2" r="2.3" fill="#111"/>
<circle cx="492.7" cy="872.9" r="2.3" fill="#111"/>
<circle cx="496.5" cy="872.9" r="2.3" fill="#111"/>
<circle cx="497" cy="882.1" r="2.3" fill="#111"/>
<circle cx="492.9" cy="883.9" r="2.3" fill="#111"/>
<circle cx="494.8" cy="895.2" r="2.3" fill="#111"/>
<circle cx="494.8" cy="900.3" r="2.3" fill="#111"/>
<circle cx="494.8" cy="905.9" r="2.3" fill="#111"/>
<circle cx="492.7" cy="913.9" r="2.3" fill="#111"/>
<circle cx="497" cy="913.6" r="2.3" fill="#111"/>
<circle cx="494.8" cy="920.9" r="2.3" fill="#111"/>
<circle cx="494.8" cy="946.1" r="2.3" fill="#111"/>
<circle cx="519.8" cy="874.4" r="2.3" fill="#111"/>
<circle cx="519.8" cy="880.7" r="2.3" fill="#111"/>
<circle cx="519.8" cy="885.8" r="2.3" fill="#111"/>
<circle cx="519.8" cy="890.1" r="2.3" fill="#111"/>
<circle cx="519.8" cy="913" r="2.3" fill="#111"/>
<circle cx="519.8" cy="919" r="2.3" fill="#111"/>
<path d="M441.3 799.3 V796.7 H469.2 V799.3" fill="none" stroke="#444" stroke-width="1"/>
<text x="455.2" y="794" text-anchor="middle">ns</text>
<path d="M493.1 854.2 V851.6 H521.8 V854.2" fill="none" stroke="#444" stroke-width="1"/>
<text x="507.5" y="848.7" text-anchor="middle">ns</text>
<rect x="500" y="791.9" width="14.9" height="14.5" fill="#5c5755" stroke="#111" stroke-width="2"/>
<rect x="500" y="810.8" width="14.9" height="14.6" fill="#df3116" stroke="#111" stroke-width="2"/>
<text x="518.3" y="802.6">FV Slc7a5<tspan font-size="8.2" dy="-4">NK-WT</tspan></text>
<text x="518.3" y="821.6">FV Slc7a5<tspan font-size="8.2" dy="-4">NK-KO</tspan></text>
</svg>
</body></html>
